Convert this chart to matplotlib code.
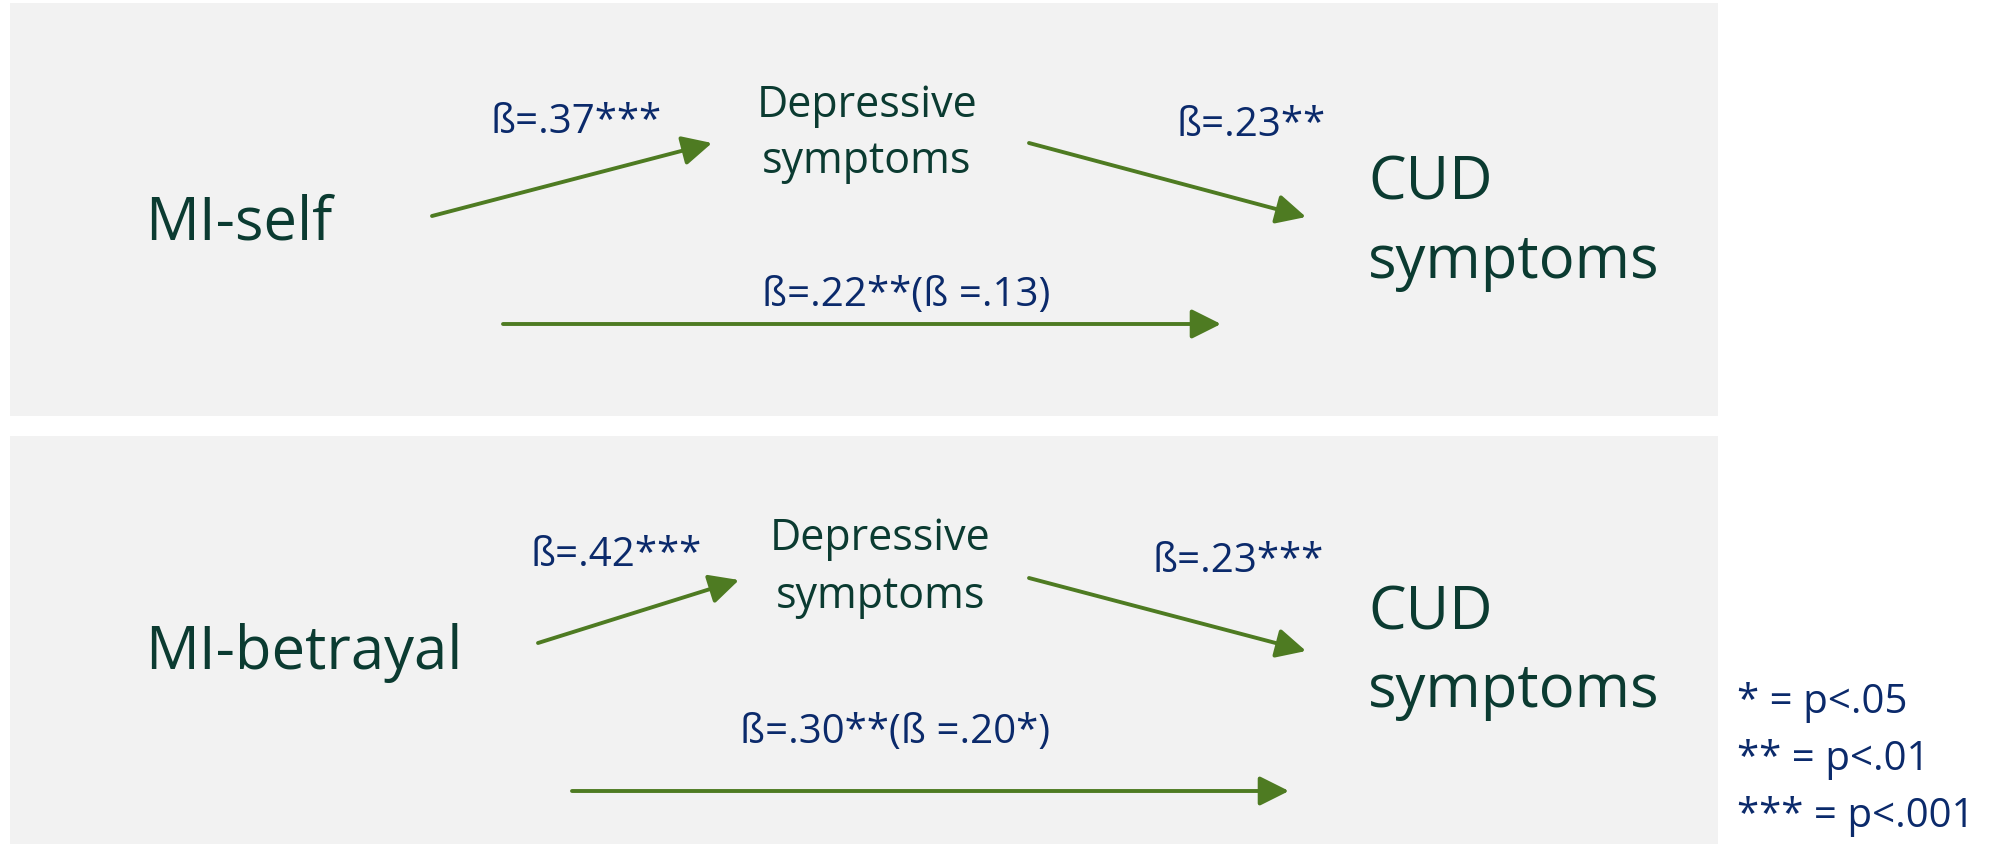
import numpy as np
import matplotlib.pyplot as plt
from matplotlib.patches import Rectangle, FancyArrowPatch

plt.rcParams['font.family'] = ['Open Sans', 'DejaVu Sans']

# model labels and path coefficients
predictors = ['MI-self', 'MI-betrayal']
mediator = ['Depressive', 'symptoms']
outcome = ['CUD', 'symptoms']
beta_a = ['.37', '.42']
stars_a = ['***', '***']
beta_b = ['.23', '.23']
stars_b = ['**', '***']
beta_c = ['.22', '.30']
stars_c = ['**', '**']
beta_cp = ['.13', '.20']
stars_cp = ['', '*']
legend_stars = ['*', '**', '***']
legend_p = ['.05', '.01', '.001']

DARK = '#0B3B31'
BLUE = '#0B2A6B'
GREEN = '#4E7B22'
PANEL = '#F2F2F2'

# layout in pixel coords (y down)
panels = [
    dict(box=(10, 4, 1708, 413),
         pred=(145, 239), a=((432, 217), (712, 144)), la=(490, 133),
         med=(867, 117, 173), b=((1029, 144), (1306, 218)), lb=(1177, 136),
         out=(1368, 200, 278), c=((503, 325), (1221, 325)), lc=(762, 306)),
    dict(box=(10, 437, 1708, 410),
         pred=(145, 669), a=((538, 644), (739, 581)), la=(531, 566),
         med=(880, 550, 608), b=((1029, 579), (1306, 652)), lb=(1153, 572),
         out=(1368, 630, 707), c=((572, 792), (1289, 792)), lc=(740, 743)),
]

fig = plt.figure(figsize=(20.14, 8.45), dpi=100)
ax = fig.add_axes([0, 0, 1, 1])
ax.set_xlim(0, 2014)
ax.set_ylim(845, 0)
ax.axis('off')


def arrow(p0, p1):
    ar = FancyArrowPatch(p0, p1, arrowstyle='-|>,head_length=0.9,head_width=0.45',
                         mutation_scale=20, lw=2.8, color=GREEN,
                         shrinkA=0, shrinkB=0)
    ax.add_patch(ar)


for i, p in enumerate(panels):
    x, y, w, h = p['box']
    ax.add_patch(Rectangle((x, y), w, h, color=PANEL, lw=0, zorder=0))

    ax.text(p['pred'][0], p['pred'][1], predictors[i], fontsize=43, color=DARK,
            va='baseline', ha='left')
    mx, my1, my2 = p['med']
    ax.text(mx, my1, mediator[0], fontsize=31, color=DARK, va='baseline', ha='center')
    ax.text(mx, my2, mediator[1], fontsize=31, color=DARK, va='baseline', ha='center')
    ox, oy1, oy2 = p['out']
    ax.text(ox, oy1, outcome[0], fontsize=43, color=DARK, va='baseline', ha='left')
    ax.text(ox, oy2, outcome[1], fontsize=43, color=DARK, va='baseline', ha='left')

    arrow(*p['a'])
    arrow(*p['b'])
    arrow(*p['c'])

    ax.text(p['la'][0], p['la'][1], 'ß=' + beta_a[i] + stars_a[i], fontsize=29,
            color=BLUE, va='baseline', ha='left')
    ax.text(p['lb'][0], p['lb'][1], 'ß=' + beta_b[i] + stars_b[i], fontsize=29,
            color=BLUE, va='baseline', ha='left')
    ax.text(p['lc'][0], p['lc'][1],
            'ß=' + beta_c[i] + stars_c[i] + '(ß =' + beta_cp[i] + stars_cp[i] + ')',
            fontsize=29, color=BLUE, va='baseline', ha='left')

for k in range(len(legend_stars)):
    ax.text(1737, 713 + 57 * k, legend_stars[k] + ' = p<' + legend_p[k], fontsize=29,
            color=BLUE, va='baseline', ha='left')

fig.savefig('out.png', dpi=100)
